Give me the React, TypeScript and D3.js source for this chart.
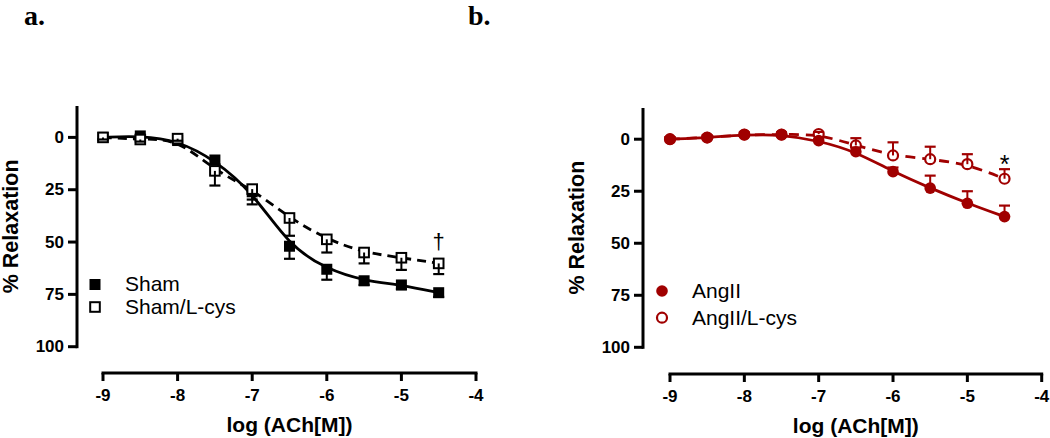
import React from 'react';
import * as d3 from 'd3';

// ---- data ----
const doses = [-9, -8.5, -8, -7.5, -7, -6.5, -6, -5.5, -5, -4.5];
const xTicks = [-9, -8, -7, -6, -5, -4];
const yTicks = [0, 25, 50, 75, 100];

const shamMean = [0, -0.7, 1.5, 10.8, 26, 52, 63, 68.5, 70.5, 74.2];
const shamErr = [1, 1, 1, 2, 6, 6, 5, 2, 2, 2];
const shamLcysMean = [0, 1, 0.6, 16, 24.7, 38.5, 48.7, 55, 57.5, 60.2];
const shamLcysErr = [1, 1, 1, 7, 5, 8.5, 6.3, 5.2, 5.8, 5.1];

const angMean = [0, -0.8, -2.2, -2.2, 0.7, 6, 15.6, 23.5, 30.8, 37.2];
const angErr = [1, 1, 1, 1, 1, 2, 2, 6, 5.8, 5.3];
const angLcysMean = [0, -0.8, -2.2, -2.2, -2.5, 3, 7.8, 9.6, 12, 19];
const angLcysErr = [1, 1, 1, 1, 1, 3.5, 6.3, 6, 4.8, 4.6];

const RED = '#a00000';
const SANS = '"Liberation Sans", Arial, sans-serif';
const SERIF = '"Liberation Serif", "Times New Roman", serif';

type Series = { name: string; means: number[]; errs: number[]; filled: boolean; dashed: boolean };

type PanelCfg = {
  label: string;
  labelX: number;
  xRange: [number, number];
  yRange: [number, number];
  axisX: number;
  axisY: number;
  color: string;
  shape: 'square' | 'circle';
  errDir: number;
  dash: string;
  series: Series[];
  drawOrder: number[];
  legend: { symX: number; textX: number; ys: number[] };
  mark: { text: string; dose: number; y: number; size: number };
};

const panelA: PanelCfg = {
  label: 'a.',
  labelX: 24,
  xRange: [103, 476],
  yRange: [106, 346.7],
  axisX: 77,
  axisY: 373,
  color: '#000',
  shape: 'square',
  errDir: 1,
  dash: '9,6',
  series: [
    { name: 'Sham', means: shamMean, errs: shamErr, filled: true, dashed: false },
    { name: 'Sham/L-cys', means: shamLcysMean, errs: shamLcysErr, filled: false, dashed: true },
  ],
  drawOrder: [0, 1],
  legend: { symX: 95, textX: 125, ys: [284.5, 307] },
  mark: { text: '\u2020', dose: -4.5, y: 249, size: 22 },
};

const panelB: PanelCfg = {
  label: 'b.',
  labelX: 468,
  xRange: [670, 1041.7],
  yRange: [108, 347.3],
  axisX: 643,
  axisY: 374,
  color: RED,
  shape: 'circle',
  errDir: -1,
  dash: '10,7',
  series: [
    { name: 'AngII', means: angMean, errs: angErr, filled: true, dashed: false },
    { name: 'AngII/L-cys', means: angLcysMean, errs: angLcysErr, filled: false, dashed: true },
  ],
  drawOrder: [1, 0],
  legend: { symX: 662, textX: 692, ys: [291, 317.7] },
  mark: { text: '*', dose: -4.5, y: 173, size: 25 },
};

function Symbol({ shape, x, y, filled, color }: { shape: string; x: number; y: number; filled: boolean; color: string }) {
  if (shape === 'square') {
    const s = filled ? 11 : 9.6;
    return (
      <rect
        x={x - s / 2}
        y={y - s / 2}
        width={s}
        height={s}
        fill={filled ? color : '#fff'}
        stroke={color}
        strokeWidth={filled ? 0 : 2}
      />
    );
  }
  const r = filled ? 5.8 : 5;
  return <circle cx={x} cy={y} r={r} fill={filled ? color : '#fff'} stroke={color} strokeWidth={filled ? 0 : 2.2} />;
}

function Panel({ cfg }: { cfg: PanelCfg }) {
  const x = d3.scaleLinear().domain([-9, -4]).range(cfg.xRange);
  const y = d3.scaleLinear().domain([-15, 100]).range(cfg.yRange);
  const line = d3
    .line<number>()
    .x((_, i) => x(doses[i]))
    .y((d) => y(d))
    .curve(d3.curveBasis);
  const c = cfg.color;
  const midX = (x(-9) + x(-4)) / 2;
  const midY = (y(-15) + y(100)) / 2;
  return (
    <g>
      <text x={cfg.labelX} y={25} fontFamily={SERIF} fontWeight="bold" fontSize={28} fill="#000">
        {cfg.label}
      </text>
      {/* y axis */}
      <line x1={cfg.axisX} x2={cfg.axisX} y1={y(-15)} y2={y(100) + 1.5} stroke="#000" strokeWidth={3} />
      {yTicks.map((t) => (
        <g key={'y' + t}>
          <line x1={cfg.axisX - 9} x2={cfg.axisX} y1={y(t)} y2={y(t)} stroke="#000" strokeWidth={3} />
          <text
            x={cfg.axisX - 13}
            y={y(t)}
            textAnchor="end"
            dominantBaseline="central"
            fontFamily={SANS}
            fontWeight="bold"
            fontSize={17}
            fill="#000"
          >
            {t}
          </text>
        </g>
      ))}
      <text
        transform={`translate(${cfg.axisX - 66},${midY}) rotate(-90)`}
        textAnchor="middle"
        dominantBaseline="central"
        fontFamily={SANS}
        fontWeight="bold"
        fontSize={21.5}
        fill="#000"
      >
        % Relaxation
      </text>
      {/* x axis */}
      <line x1={x(-9) - 1.5} x2={x(-4) + 1.5} y1={cfg.axisY} y2={cfg.axisY} stroke="#000" strokeWidth={3} />
      {xTicks.map((t) => (
        <g key={'x' + t}>
          <line x1={x(t)} x2={x(t)} y1={cfg.axisY} y2={cfg.axisY + 8} stroke="#000" strokeWidth={3} />
          <text
            x={x(t)}
            y={cfg.axisY + 28}
            textAnchor="middle"
            fontFamily={SANS}
            fontWeight="bold"
            fontSize={17}
            fill="#000"
          >
            {String(t)}
          </text>
        </g>
      ))}
      <text x={midX} y={cfg.axisY + 59} textAnchor="middle" fontFamily={SANS} fontWeight="bold" fontSize={21} fill="#000">
        log (ACh[M])
      </text>
      {/* curves */}
      {cfg.series.map((s, i) => (
        <path
          key={'c' + i}
          d={line(s.means) || ''}
          fill="none"
          stroke={c}
          strokeWidth={2.8}
          strokeDasharray={s.dashed ? cfg.dash : undefined}
        />
      ))}
      {/* points + error bars */}
      {cfg.drawOrder.map((si) => {
        const s = cfg.series[si];
        return (
          <g key={'s' + si}>
            {s.means.map((m, i) => (
              <Symbol key={'p' + i} shape={cfg.shape} x={x(doses[i])} y={y(m)} filled={s.filled} color={c} />
            ))}
            {s.means.map((m, i) => {
              const end = y(m + cfg.errDir * s.errs[i]);
              const cx = x(doses[i]);
              return (
                <g key={'e' + i}>
                  <line x1={cx} x2={cx} y1={y(m)} y2={end} stroke={c} strokeWidth={2} />
                  <line x1={cx - 5.5} x2={cx + 5.5} y1={end} y2={end} stroke={c} strokeWidth={2.2} />
                </g>
              );
            })}
          </g>
        );
      })}
      {/* significance mark */}
      <text
        x={x(cfg.mark.dose)}
        y={cfg.mark.y}
        textAnchor="middle"
        fontFamily={SANS}
        fontSize={cfg.mark.size}
        fill="#000"
      >
        {cfg.mark.text}
      </text>
      {/* legend */}
      {cfg.series.map((s, i) => (
        <g key={'l' + i}>
          <Symbol shape={cfg.shape} x={cfg.legend.symX} y={cfg.legend.ys[i]} filled={s.filled} color={c} />
          <text x={cfg.legend.textX} y={cfg.legend.ys[i] + 6.8} fontFamily={SANS} fontSize={21} fill="#000">
            {s.name}
          </text>
        </g>
      ))}
    </g>
  );
}

export default function App() {
  return (
    <div style={{ position: 'absolute', left: 0, top: 0 }}>
      <svg width={1050} height={438} style={{ display: 'block', background: '#fff' }}>
        <rect width={1050} height={438} fill="#fff" />
        <Panel cfg={panelA} />
        <Panel cfg={panelB} />
      </svg>
    </div>
  );
}
